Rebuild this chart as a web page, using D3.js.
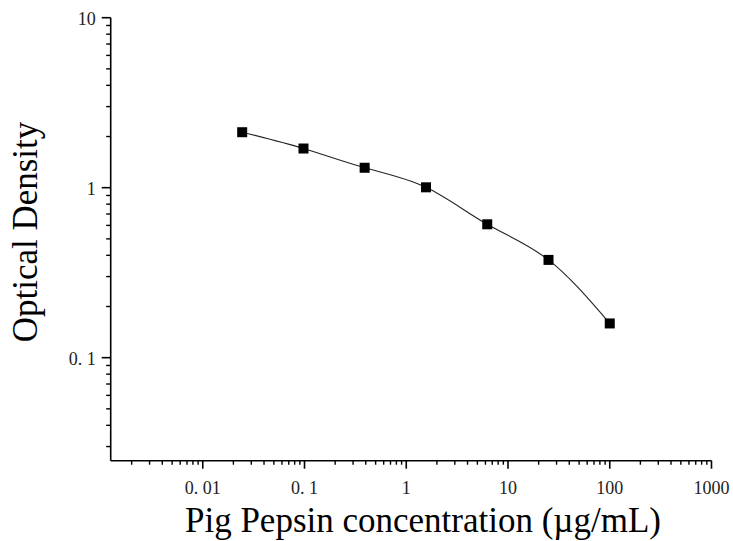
<!DOCTYPE html>
<html><head><meta charset="utf-8">
<script src="https://cdn.jsdelivr.net/npm/d3@7"></script>
<style>body{margin:0;background:#fff}svg{display:block}</style>
</head><body>
<svg id="c" width="733" height="541"></svg>
<script>
const concentrations = [0.0244, 0.0977, 0.39, 1.5625, 6.25, 25, 100];
const odValues = [2.12, 1.70, 1.31, 1.005, 0.609, 0.376, 0.159];
const xTickValues = [0.01, 0.1, 1, 10, 100, 1000];
const xTickLabels = ["0. 01", "0. 1", "1", "10", "100", "1000"];
const yTickValues = [0.1, 1, 10];
const yTickLabels = ["0. 1", "1", "10"];
const xTitle = "Pig Pepsin concentration (\u00b5g/mL)";
const yTitle = "Optical Density";

const svg = d3.select("#c");
const font = "'Liberation Serif','Times New Roman',serif";
const x = d3.scaleLog().domain([0.001245, 1000]).range([110.7, 711.5]);
const y = d3.scaleLog().domain([0.02477, 10]).range([460.7, 17.7]);

function minors(lo, hi) {
  const out = [];
  for (let e = -4; e <= 4; e++) for (let m = 2; m <= 9; m++) {
    const v = m * Math.pow(10, e);
    if (v >= lo && v <= hi) out.push(v);
  }
  return out;
}

// X axis
const gx = svg.append("g").attr("transform", "translate(0,460.7)");
gx.append("line").attr("x1", x.range()[0]).attr("x2", x.range()[1]).attr("stroke", "#000").attr("stroke-width", 1.6);
gx.selectAll(".mn").data(minors(x.domain()[0], x.domain()[1])).enter().append("line")
  .attr("x1", d => x(d)).attr("x2", d => x(d)).attr("y1", 0).attr("y2", 4).attr("stroke", "#000").attr("stroke-width", 1.4);
gx.selectAll(".mj").data(xTickValues).enter().append("line")
  .attr("x1", d => x(d)).attr("x2", d => x(d)).attr("y1", 0).attr("y2", 8).attr("stroke", "#000").attr("stroke-width", 1.6);
gx.selectAll(".lb").data(xTickValues).enter().append("text")
  .attr("x", d => x(d)).attr("y", 33).attr("text-anchor", "middle")
  .attr("font-family", font).attr("font-size", 18).attr("fill", "#222")
  .text((d, i) => xTickLabels[i]);

// Y axis
const gy = svg.append("g").attr("transform", "translate(110.7,0)");
gy.append("line").attr("y1", y.range()[0]).attr("y2", y.range()[1]).attr("stroke", "#000").attr("stroke-width", 1.6);
gy.selectAll(".mn").data(minors(y.domain()[0], y.domain()[1])).enter().append("line")
  .attr("y1", d => y(d)).attr("y2", d => y(d)).attr("x1", 0).attr("x2", -4.5).attr("stroke", "#000").attr("stroke-width", 1.4);
gy.selectAll(".mj").data(yTickValues).enter().append("line")
  .attr("y1", d => y(d)).attr("y2", d => y(d)).attr("x1", 0).attr("x2", -9).attr("stroke", "#000").attr("stroke-width", 1.6);
gy.selectAll(".lb").data(yTickValues).enter().append("text")
  .attr("x", -15).attr("y", d => y(d) + 7).attr("text-anchor", "end")
  .attr("font-family", font).attr("font-size", 18).attr("fill", "#222")
  .text((d, i) => yTickLabels[i]);

// Titles
svg.append("text").attr("x", 423).attr("y", 532).attr("text-anchor", "middle")
  .attr("font-family", font).attr("font-size", 35).attr("fill", "#000").text(xTitle);
svg.append("text").attr("transform", "translate(37,232) rotate(-90)").attr("text-anchor", "middle")
  .attr("font-family", font).attr("font-size", 35).attr("fill", "#000").text(yTitle);

// Curve
const pts = concentrations.map((c, i) => [c, odValues[i]]);
const line = d3.line().x(d => x(d[0])).y(d => y(d[1])).curve(d3.curveNatural);
svg.append("path").attr("d", line(pts)).attr("fill", "none").attr("stroke", "#222").attr("stroke-width", 1.1);

// Markers
svg.selectAll(".pt").data(pts).enter().append("rect")
  .attr("x", d => x(d[0]) - 5).attr("y", d => y(d[1]) - 5)
  .attr("width", 10).attr("height", 10).attr("fill", "#000");
</script>
</body></html>
